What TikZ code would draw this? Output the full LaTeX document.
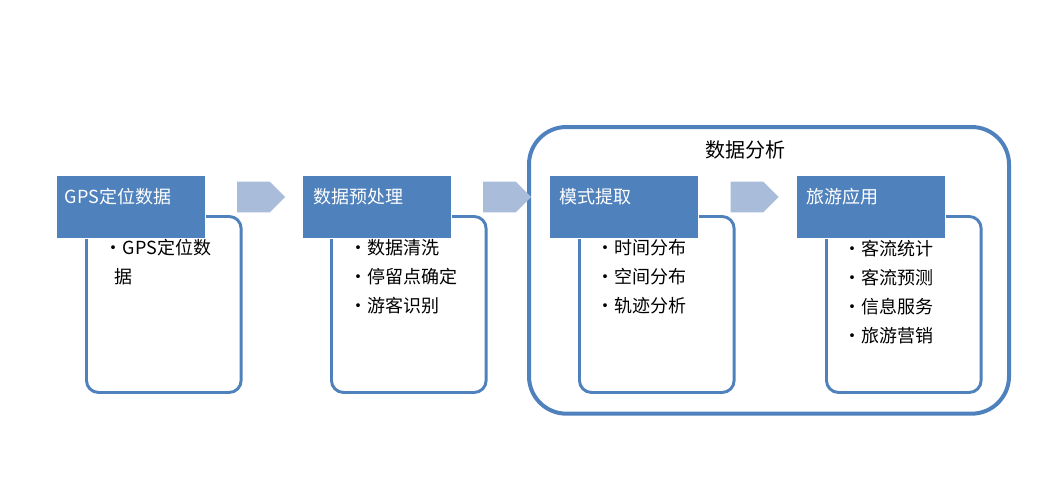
\documentclass[tikz,border=0pt]{standalone}
\usepackage{fontspec}
\setmainfont{Noto Sans CJK SC}
\usetikzlibrary{shapes.arrows}
\definecolor{hdr}{HTML}{4F81BD}
\definecolor{arr}{HTML}{A9BCD9}
\begin{document}
\begin{tikzpicture}[x=0.75pt,y=-0.75pt,
  hdr/.style={fill=hdr,draw=white,line width=0.8pt},
  content/.style={draw=hdr,line width=2.2pt,fill=white,rounded corners=9pt},
  htext/.style={text=white,anchor=west,font=\fontsize{13.5}{15}\selectfont},
  btext/.style={anchor=north west,align=left,font=\fontsize{13.5}{21.75}\selectfont,text width=100pt},
  arrow/.style={single arrow,fill=arr,draw=none,minimum height=36pt,minimum width=23pt,single arrow head extend=0pt,inner sep=0pt,shape border rotate=0}]
\useasboundingbox (0,0) rectangle (1062,494);
\node[draw=hdr,line width=3pt,rounded corners=28pt,minimum width=360pt,minimum height=215pt,anchor=north west] (frame) at (527,125) {};
\node[font=\fontsize{15}{17}\selectfont] (title) at (745,150) {数据分析};
% boxes
\foreach \n/\hx/\cx in {a/56/85,b/302/330,c/549/578,d/796/825}{
  \node[content,anchor=north west,minimum width=116pt,minimum height=132pt] (c\n) at (\cx,215) {};
  \node[hdr,anchor=north west,minimum width=112pt,minimum height=47pt] (h\n) at (\hx,175) {};
}
\node[htext] (ta) at (60,197) {GPS定位数据};
\node[htext] (tb) at (309,197) {数据预处理};
\node[htext] (tc) at (555,197) {模式提取};
\node[htext] (td) at (802,197) {旅游应用};
\node[btext] (la) at (100,235) {•GPS定位数\\\hspace*{7.5pt}据};
\node[btext] (lb) at (345,235) {•数据清洗\\•停留点确定\\•游客识别};
\node[btext] (lc) at (592,235) {•时间分布\\•空间分布\\•轨迹分析};
\node[btext] (ld) at (839,235) {•客流统计\\•客流预测\\•信息服务\\•旅游营销};
\node[arrow] (a1) at (253.5,197) {};
\node[arrow] (a2) at (499.5,197) {};
\node[arrow] (a3) at (747,197) {};
\end{tikzpicture}
\end{document}
